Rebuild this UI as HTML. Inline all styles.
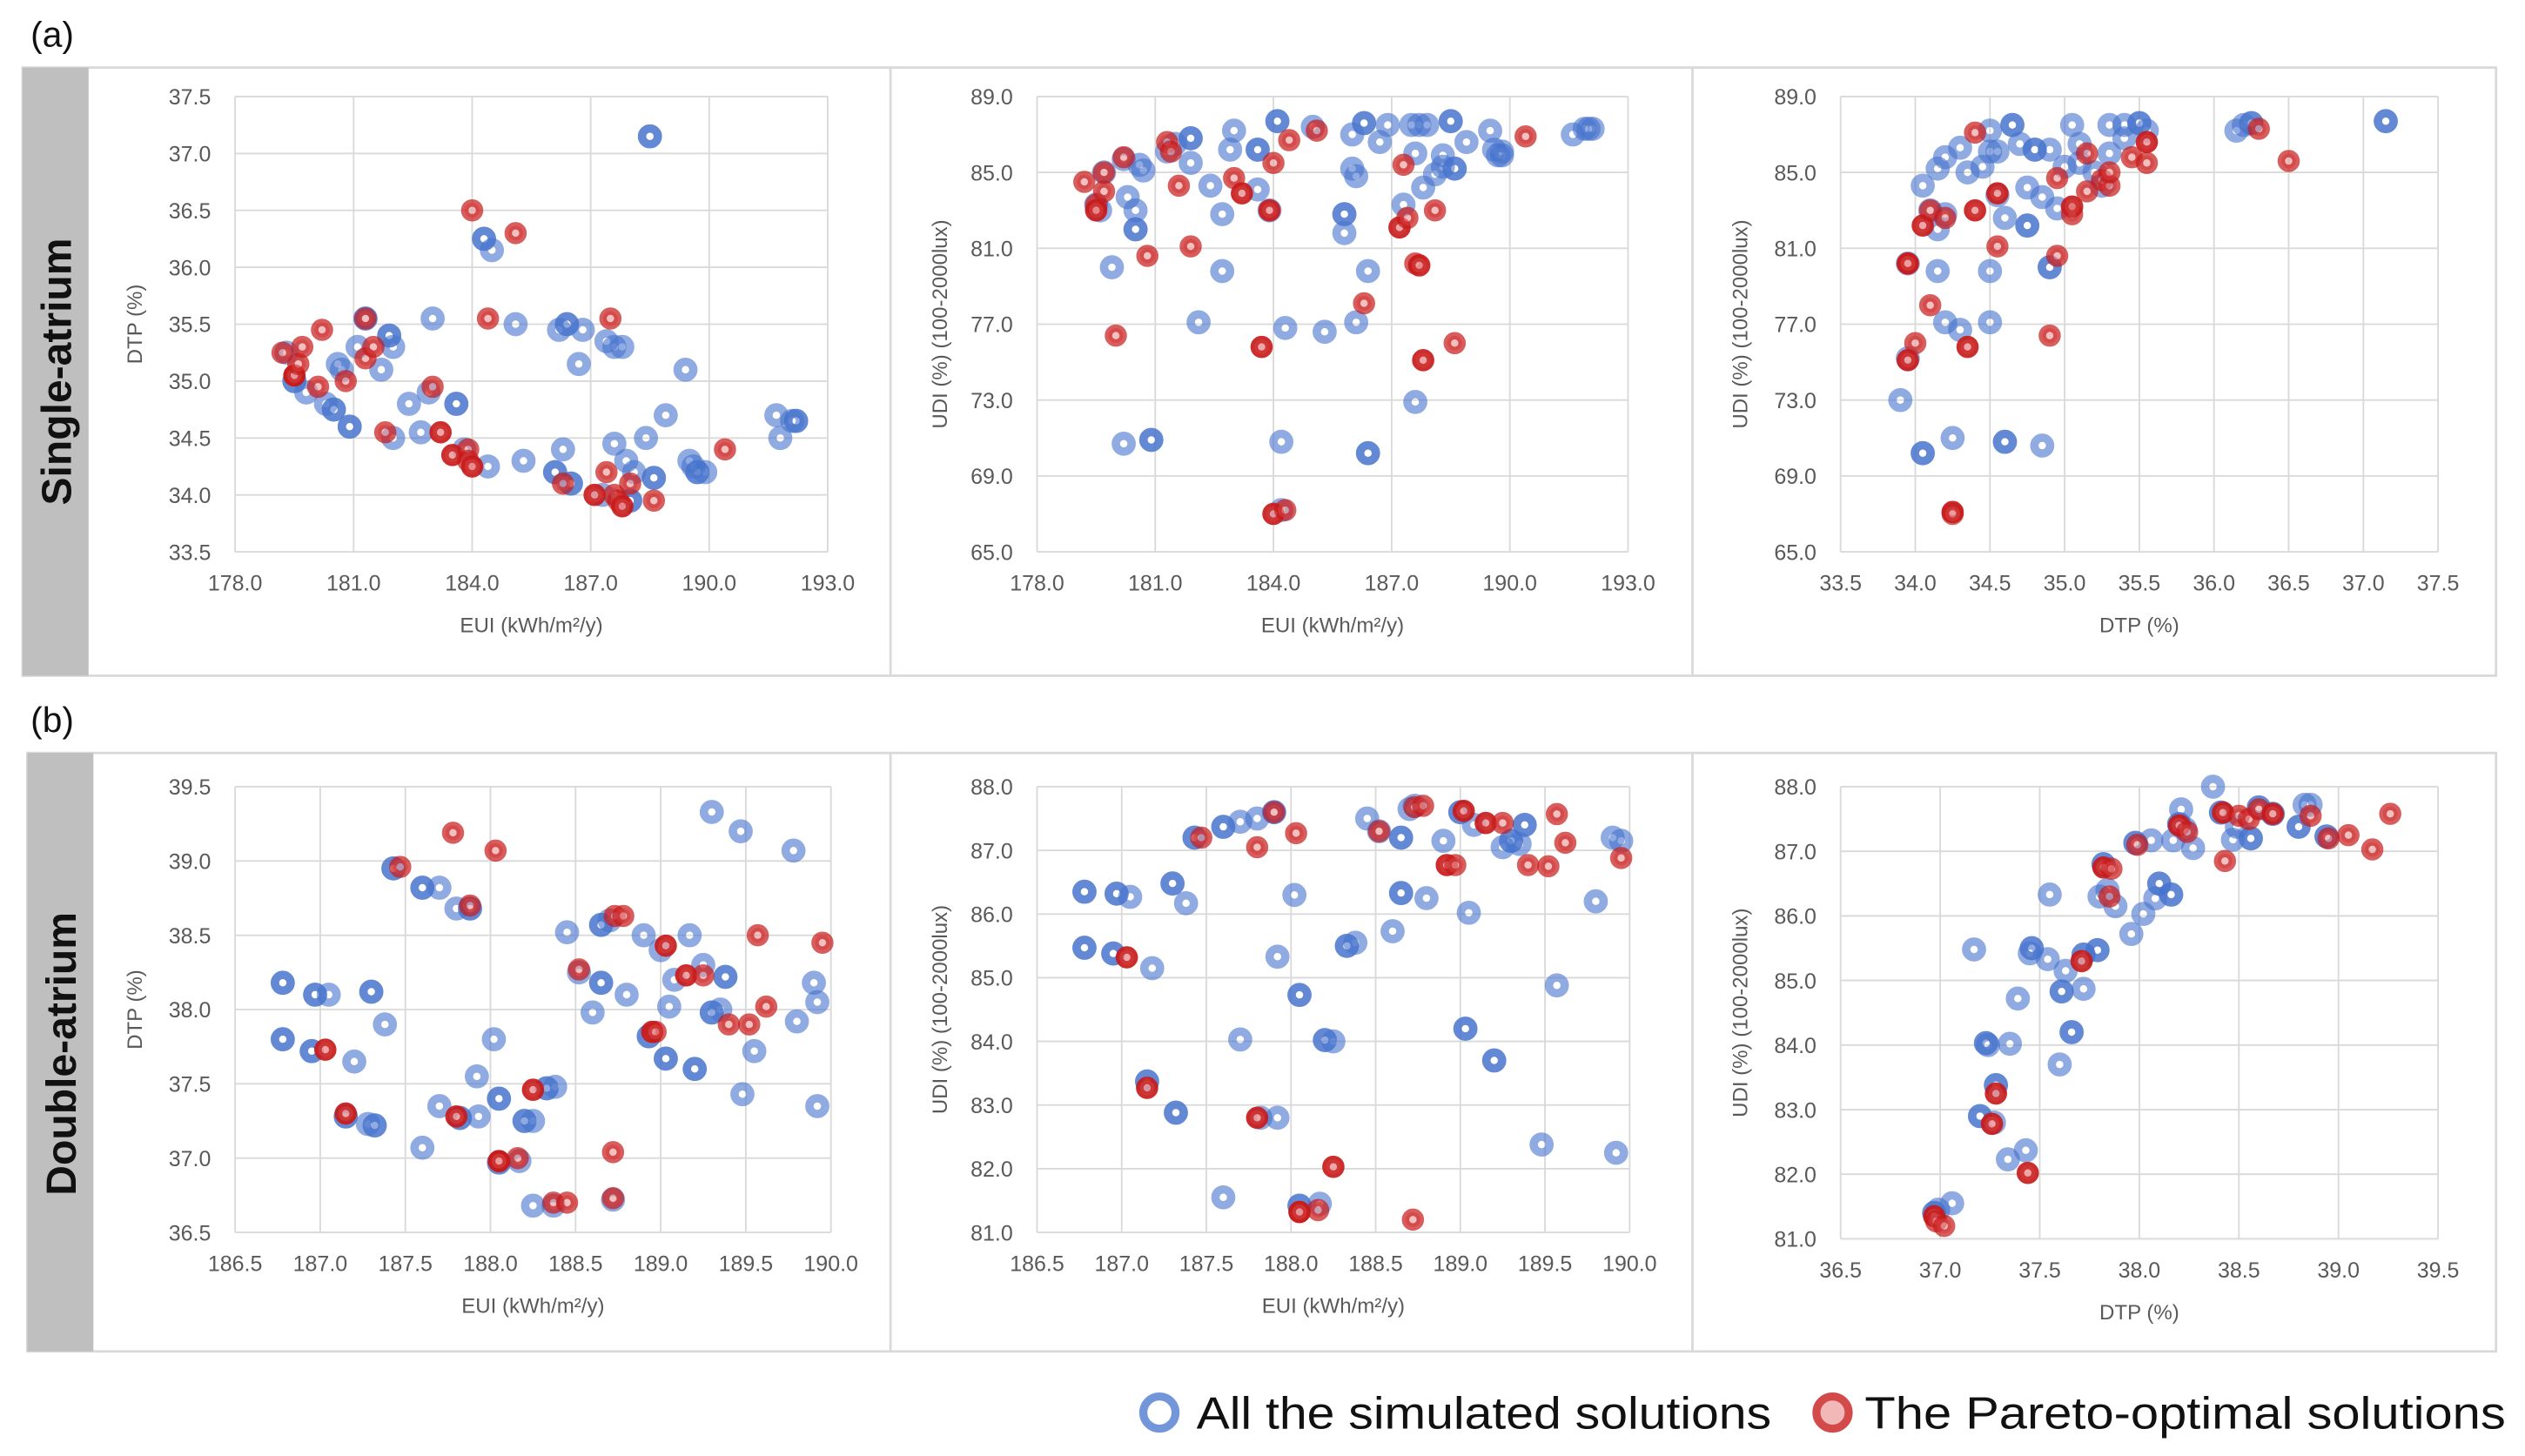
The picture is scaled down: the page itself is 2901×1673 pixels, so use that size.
<!DOCTYPE html>
<html><head><meta charset="utf-8"><style>
html,body{margin:0;padding:0;background:#fff;}
svg{display:block;}
text{font-family:"Liberation Sans",sans-serif;}
</style></head><body>
<svg id="fig" width="2901" height="1673" viewBox="0 0 1568 905" preserveAspectRatio="none" xmlns="http://www.w3.org/2000/svg">
<text x="19" y="29" font-size="22" fill="#111">(a)</text>
<text x="19" y="455" font-size="22" fill="#111">(b)</text>
<rect x="14" y="42" width="1536" height="378" fill="#fff" stroke="#d9d9d9" stroke-width="1.5"/>
<rect x="14" y="42" width="41" height="378" fill="#bfbfbf"/>
<text transform="translate(44,231) rotate(-90)" text-anchor="middle" font-size="26" font-weight="bold" fill="#111">Single-atrium</text>
<line x1="553" y1="42" x2="553" y2="420" stroke="#d9d9d9" stroke-width="1.5"/>
<line x1="1051" y1="42" x2="1051" y2="420" stroke="#d9d9d9" stroke-width="1.5"/>
<rect x="17" y="468" width="1533" height="372" fill="#fff" stroke="#d9d9d9" stroke-width="1.5"/>
<rect x="17" y="468" width="41" height="372" fill="#bfbfbf"/>
<text transform="translate(47,655) rotate(-90)" text-anchor="middle" font-size="26" font-weight="bold" fill="#111">Double-atrium</text>
<line x1="553" y1="468" x2="553" y2="840" stroke="#d9d9d9" stroke-width="1.5"/>
<line x1="1051" y1="468" x2="1051" y2="840" stroke="#d9d9d9" stroke-width="1.5"/>
<g>
<circle cx="720" cy="878" r="10" fill="#fff" stroke="#7396db" stroke-width="5"/>
<text x="743" y="888" font-size="28" textLength="357" lengthAdjust="spacingAndGlyphs" fill="#111">All the simulated solutions</text>
<circle cx="1138" cy="878" r="10" fill="#f2b8b8" stroke="#d24a4a" stroke-width="5"/>
<text x="1158" y="888" font-size="28" textLength="398" lengthAdjust="spacingAndGlyphs" fill="#111">The Pareto-optimal solutions</text>
</g>
</svg>
<script>
// ---- Chart 1: single atrium EUI vs DTP ----
const c1BlueX=[179.3,179.5,179.5,179.8,180.3,180.5,180.5,180.6,180.7,180.9,180.9,181.1,181.3,181.3,181.7,181.9,181.9,182.0,182.0,182.4,182.7,182.9,183.0,183.6,183.6,183.8,184.3,184.3,184.5,184.4,185.1,185.3,186.1,186.1,186.2,186.3,186.4,186.4,186.5,186.5,186.7,186.8,187.3,187.4,187.6,187.6,187.8,187.9,188.0,188.0,188.1,188.5,188.5,188.4,188.6,188.6,188.9,189.4,189.5,189.6,189.7,189.7,189.9,191.7,191.8,192.1,192.2,192.2];
const c1BlueY=[35.25,35.0,35.0,34.9,34.8,34.75,34.75,35.15,35.1,34.6,34.6,35.3,35.55,35.55,35.1,35.4,35.4,35.3,34.5,34.8,34.55,34.9,35.55,34.8,34.8,34.4,36.25,36.25,36.15,34.25,35.5,34.3,34.2,34.2,35.45,34.4,35.5,35.5,34.1,34.1,35.15,35.45,34.0,35.35,34.45,35.3,35.3,34.3,33.95,33.95,34.2,37.15,37.15,34.5,34.15,34.15,34.7,35.1,34.3,34.25,34.2,34.2,34.2,34.7,34.5,34.65,34.65,34.65];
const c1RedX=[179.2,179.5,179.5,179.5,179.6,179.7,180.1,180.2,180.8,181.3,181.3,181.5,181.8,183.0,183.2,183.2,183.5,183.5,183.9,183.9,184.0,184.0,184.0,184.4,185.1,186.3,187.1,187.1,187.4,187.5,187.6,187.7,187.8,187.8,188.0,188.6,190.4];
const c1RedY=[35.25,35.05,35.05,35.05,35.15,35.3,34.95,35.45,35.0,35.55,35.2,35.3,34.55,34.95,34.55,34.55,34.35,34.35,34.4,34.3,34.25,34.25,36.5,35.55,36.3,34.1,34.0,34.0,34.2,35.55,34.0,33.95,33.9,33.9,34.1,33.95,34.4];
// ---- Chart 2: single atrium EUI vs UDI ----
const c2BlueX=[179.5,179.6,179.7,179.9,180.2,180.3,180.5,180.6,180.7,180.5,180.5,180.2,180.9,180.9,181.3,181.5,181.9,181.9,181.9,182.1,182.4,182.7,182.7,183.0,182.9,183.6,183.6,183.6,183.9,184.1,184.1,184.2,184.3,184.2,185.0,185.3,185.8,185.8,185.8,186.0,186.0,186.1,186.1,186.3,186.3,186.4,186.4,186.4,186.7,186.9,187.3,187.5,187.7,187.9,187.6,187.6,187.8,188.1,188.3,188.3,188.5,188.5,188.6,188.6,188.9,189.5,189.6,189.7,189.8,189.8,191.6,191.9,192.0,192.1];
const c2BlueY=[83.3,83.0,85.0,80.0,85.7,83.7,83.0,85.4,85.1,82.0,82.0,70.7,70.9,70.9,86.1,86.5,86.8,86.8,85.5,77.1,84.3,82.8,79.8,87.2,86.2,86.2,86.2,84.1,83.0,87.7,87.7,70.8,76.8,67.2,87.4,76.6,82.8,82.8,81.8,87.0,85.2,84.8,77.1,87.6,87.6,70.2,70.2,79.8,86.6,87.5,83.3,87.5,87.5,87.5,86.0,72.9,84.2,84.9,85.3,85.9,87.7,87.7,85.2,85.2,86.6,87.2,86.2,85.9,86.1,85.9,87.0,87.3,87.3,87.3];
const c2RedX=[179.2,179.5,179.5,179.5,179.7,179.7,180.0,180.2,180.8,181.3,181.4,181.6,181.9,183.0,183.2,183.2,183.7,183.7,183.9,183.9,184.0,184.0,184.0,184.3,184.4,185.1,186.3,187.2,187.2,187.3,187.4,187.6,187.7,187.7,187.8,187.8,188.1,188.6,190.4];
const c2RedY=[84.5,83.3,83.0,83.0,85.0,84.0,76.4,85.8,80.6,86.6,86.1,84.3,81.1,84.7,83.9,83.9,75.8,75.8,83.0,83.0,85.5,67.0,67.0,67.2,86.7,87.2,78.1,82.1,82.1,85.4,82.6,80.2,80.1,80.1,75.1,75.1,83.0,76.0,86.9];
// ---- Chart 3: single atrium DTP vs UDI ----
const c3BlueX=[33.9,33.95,33.95,34.05,34.05,34.05,34.1,34.15,34.15,34.2,34.2,34.15,34.2,34.3,34.25,34.3,34.35,34.45,34.5,34.5,34.55,34.5,34.5,34.55,34.6,34.6,34.6,34.65,34.65,34.7,34.75,34.75,34.75,34.8,34.8,34.85,34.9,34.85,34.9,34.9,34.95,35.05,35.0,35.1,35.1,35.2,35.25,35.3,35.3,35.4,35.4,35.5,35.5,35.55,36.15,36.2,36.25,36.25,37.15,37.15];
const c3BlueY=[73.0,75.2,80.2,70.2,70.2,84.3,83.0,79.8,85.2,85.8,82.8,82.0,77.1,86.3,71.0,76.7,85.0,85.3,87.2,86.1,86.1,77.1,79.8,83.8,82.6,70.8,70.8,87.5,87.5,86.5,82.2,82.2,84.2,86.2,86.2,83.7,86.2,70.6,80.0,80.0,83.1,87.5,85.3,85.5,86.5,85.0,84.3,87.5,86.0,87.5,86.8,87.6,87.6,87.2,87.2,87.5,87.6,87.6,87.7,87.7];
const c3RedX=[33.95,33.95,33.95,33.95,33.95,34.0,34.05,34.05,34.1,34.1,34.2,34.25,34.25,34.25,34.35,34.35,34.4,34.4,34.4,34.55,34.55,34.55,34.9,34.95,34.95,35.05,35.05,35.05,35.15,35.15,35.25,35.3,35.3,35.45,35.55,35.55,35.55,36.3,36.5];
const c3RedY=[75.1,75.1,80.2,80.2,80.2,76.0,82.2,82.2,83.0,78.0,82.6,67.1,67.1,67.0,75.8,75.8,83.0,83.0,87.1,83.9,83.9,81.1,76.4,84.7,80.6,83.2,82.8,83.2,84.0,86.0,84.6,84.3,85.0,85.8,86.6,86.6,85.5,87.3,85.6];
// ---- Chart 4: double atrium EUI vs DTP ----
const c4BlueX=[186.78,186.78,186.78,186.78,186.97,186.97,187.05,186.95,186.95,187.2,187.3,187.3,187.38,187.15,187.15,187.28,187.32,187.32,187.43,187.43,187.6,187.6,187.7,187.8,187.88,187.88,187.6,187.7,187.82,187.82,187.92,187.93,188.02,188.05,188.05,188.05,188.05,188.17,188.2,188.2,188.25,188.25,188.33,188.33,188.38,188.37,188.45,188.52,188.6,188.65,188.65,188.65,188.65,188.7,188.72,188.8,188.9,188.93,188.93,189.0,189.05,189.03,189.03,189.08,189.17,189.2,189.2,189.25,189.3,189.3,189.35,189.38,189.38,189.3,189.47,189.48,189.55,189.78,189.8,189.9,189.92,189.92];
const c4BlueY=[38.18,38.18,37.8,37.8,38.1,38.1,38.1,37.72,37.72,37.65,38.12,38.12,37.9,37.28,37.28,37.23,37.22,37.22,38.95,38.95,38.82,38.82,38.82,38.68,38.68,38.68,37.07,37.35,37.27,37.27,37.55,37.28,37.8,37.4,37.4,36.97,36.97,36.98,37.25,37.25,37.25,36.68,37.47,37.47,37.48,36.68,38.52,38.25,37.98,38.57,38.57,38.18,38.18,38.6,36.72,38.1,38.5,37.82,37.82,38.4,38.02,37.67,37.67,38.2,38.5,37.6,37.6,38.3,37.98,37.98,38.0,38.22,38.22,39.33,39.2,37.43,37.72,39.07,37.92,38.18,38.05,37.35];
const c4RedX=[187.03,187.03,187.15,187.15,187.47,187.78,187.8,187.8,187.88,188.03,188.05,188.05,188.05,188.16,188.25,188.25,188.37,188.45,188.52,188.72,188.72,188.73,188.78,188.95,188.95,188.97,189.03,189.03,189.15,189.15,189.25,189.4,189.52,189.57,189.62,189.95];
const c4RedY=[37.73,37.73,37.3,37.3,38.96,39.19,37.28,37.28,38.7,39.07,36.98,36.98,36.98,37.0,37.46,37.46,36.7,36.7,38.27,37.04,36.73,38.63,38.63,37.85,37.85,37.85,38.43,38.43,38.23,38.23,38.23,37.9,37.9,38.5,38.02,38.45];
// ---- Chart 5: double atrium EUI vs UDI ----
const c5BlueX=[186.78,186.78,186.78,186.78,186.97,186.97,187.05,186.95,186.95,187.18,187.3,187.3,187.38,187.15,187.15,187.32,187.32,187.43,187.43,187.6,187.6,187.7,187.8,187.9,187.9,187.6,187.7,187.82,187.92,187.92,188.02,188.05,188.05,188.05,188.05,188.17,188.2,188.2,188.25,188.33,188.33,188.38,188.45,188.52,188.6,188.65,188.65,188.65,188.65,188.7,188.73,188.8,188.9,189.0,189.0,189.05,189.03,189.03,189.08,189.2,189.2,189.25,189.3,189.3,189.35,189.38,189.38,189.48,189.57,189.8,189.9,189.95,189.92];
const c5BlueY=[86.35,86.35,85.47,85.47,86.32,86.32,86.27,85.38,85.38,85.15,86.48,86.48,86.17,83.37,83.37,82.88,82.88,87.2,87.2,87.37,87.37,87.45,87.5,87.6,87.6,81.55,84.03,82.8,82.8,85.33,86.3,84.73,84.73,81.42,81.42,81.45,84.02,84.02,84.0,85.5,85.5,85.55,87.5,87.3,85.73,87.2,87.2,86.33,86.33,87.65,87.7,86.25,87.15,87.6,87.6,86.02,84.2,84.2,87.4,83.7,83.7,87.05,87.15,87.15,87.1,87.4,87.4,82.38,84.88,86.2,87.2,87.15,82.25];
const c5RedX=[187.03,187.03,187.15,187.15,187.47,187.8,187.8,187.8,187.9,188.03,188.05,188.05,188.05,188.16,188.25,188.25,188.52,188.72,188.73,188.78,188.92,188.92,188.97,189.02,189.02,189.15,189.15,189.25,189.4,189.52,189.57,189.62,189.95];
const c5RedY=[85.32,85.32,83.27,83.27,87.2,87.05,82.8,82.8,87.6,87.27,81.32,81.32,81.32,81.35,82.03,82.03,87.3,81.2,87.68,87.7,86.77,86.77,86.77,87.62,87.62,87.43,87.43,87.43,86.77,86.75,87.57,87.12,86.88];
// ---- Chart 6: double atrium DTP vs UDI ----
const c6BlueX=[36.97,36.97,36.99,37.06,37.17,37.23,37.23,37.24,37.35,37.2,37.2,37.27,37.28,37.28,37.34,37.43,37.39,37.46,37.46,37.45,37.54,37.55,37.6,37.61,37.61,37.63,37.66,37.66,37.72,37.72,37.72,37.79,37.79,37.8,37.82,37.82,37.84,37.88,37.96,37.98,37.98,38.02,38.06,38.1,38.1,38.08,38.16,38.16,38.17,38.2,38.2,38.21,38.23,38.27,38.37,38.41,38.41,38.47,38.49,38.56,38.56,38.6,38.6,38.67,38.67,38.8,38.8,38.83,38.86,38.94,38.94];
const c6BlueY=[81.4,81.4,81.45,81.55,85.48,84.03,84.03,84.0,84.02,82.9,82.9,82.8,83.38,83.38,82.23,82.37,84.72,85.5,85.5,85.42,85.33,86.33,83.7,84.83,84.83,85.15,84.2,84.2,84.87,85.4,85.4,85.47,85.47,86.3,86.8,86.8,86.4,86.15,85.72,87.13,87.13,86.03,87.17,86.5,86.5,86.27,86.33,86.33,87.17,87.42,87.42,87.65,87.35,87.05,88.0,87.6,87.6,87.18,87.38,87.2,87.2,87.68,87.68,87.58,87.58,87.38,87.38,87.72,87.72,87.23,87.23];
const c6RedX=[36.97,36.97,36.98,37.02,37.26,37.26,37.28,37.28,37.44,37.44,37.71,37.71,37.82,37.82,37.86,37.85,37.99,38.2,38.2,38.24,38.43,38.42,38.42,38.5,38.55,38.6,38.67,38.67,38.86,38.95,39.05,39.17,39.26];
const c6RedY=[81.35,81.35,81.27,81.2,82.78,82.78,83.25,83.25,82.02,82.02,85.3,85.3,86.75,86.75,86.73,86.3,87.1,87.4,87.4,87.3,86.85,87.6,87.6,87.55,87.5,87.65,87.58,87.58,87.55,87.2,87.25,87.03,87.58];
// tick labels
const xTicksEUI1=["178.0","181.0","184.0","187.0","190.0","193.0"];
const yTicksDTP1=["33.5","34.0","34.5","35.0","35.5","36.0","36.5","37.0","37.5"];
const yTicksUDI1=["65.0","69.0","73.0","77.0","81.0","85.0","89.0"];
const xTicksDTP1=["33.5","34.0","34.5","35.0","35.5","36.0","36.5","37.0","37.5"];
const xTicksEUI2=["186.5","187.0","187.5","188.0","188.5","189.0","189.5","190.0"];
const yTicksDTP2=["36.5","37.0","37.5","38.0","38.5","39.0","39.5"];
const yTicksUDI2=["81.0","82.0","83.0","84.0","85.0","86.0","87.0","88.0"];
const xTicksDTP2=["36.5","37.0","37.5","38.0","38.5","39.0","39.5"];

const NS="http://www.w3.org/2000/svg";
const svg=document.getElementById('fig');
function mk(tag,attrs,parent){const e=document.createElementNS(NS,tag);for(const k in attrs)e.setAttribute(k,attrs[k]);parent.appendChild(e);return e;}

const charts=[
 {id:'c1',L:146,R:514,T:60,B:343,xt:xTicksEUI1,yt:yTicksDTP1,xtitle:'EUI (kWh/m²/y)',ytitle:'DTP (%)',ytx:88,bx:c1BlueX,by:c1BlueY,rx:c1RedX,ry:c1RedY},
 {id:'c2',L:644,R:1011,T:60,B:343,xt:xTicksEUI1,yt:yTicksUDI1,xtitle:'EUI (kWh/m²/y)',ytitle:'UDI (%) (100-2000lux)',ytx:588,bx:c2BlueX,by:c2BlueY,rx:c2RedX,ry:c2RedY},
 {id:'c3',L:1143,R:1514,T:60,B:343,xt:xTicksDTP1,yt:yTicksUDI1,xtitle:'DTP (%)',ytitle:'UDI (%) (100-2000lux)',ytx:1085,bx:c3BlueX,by:c3BlueY,rx:c3RedX,ry:c3RedY},
 {id:'c4',L:146,R:516,T:489,B:766,xt:xTicksEUI2,yt:yTicksDTP2,xtitle:'EUI (kWh/m²/y)',ytitle:'DTP (%)',ytx:88,bx:c4BlueX,by:c4BlueY,rx:c4RedX,ry:c4RedY},
 {id:'c5',L:644,R:1012,T:489,B:766,xt:xTicksEUI2,yt:yTicksUDI2,xtitle:'EUI (kWh/m²/y)',ytitle:'UDI (%) (100-2000lux)',ytx:588,bx:c5BlueX,by:c5BlueY,rx:c5RedX,ry:c5RedY},
 {id:'c6',L:1143,R:1514,T:489,B:770,xt:xTicksDTP2,yt:yTicksUDI2,xtitle:'DTP (%)',ytitle:'UDI (%) (100-2000lux)',ytx:1085,bx:c6BlueX,by:c6BlueY,rx:c6RedX,ry:c6RedY}
];

charts.forEach(c=>{
 const g=mk('g',{},svg);
 
 
 const x0=parseFloat(c.xt[0]),x1=parseFloat(c.xt[c.xt.length-1]);
 const y0=parseFloat(c.yt[0]),y1=parseFloat(c.yt[c.yt.length-1]);
 const sx=v=>c.L+(v-x0)/(x1-x0)*(c.R-c.L);
 const sy=v=>c.B-(v-y0)/(y1-y0)*(c.B-c.T);
 c.xt.forEach(t=>{
  const x=sx(parseFloat(t));
  const ln=mk('line',{x1:x,x2:x,y1:c.T,y2:c.B,stroke:'#d9d9d9','stroke-width':1},g);
  
  
  const tx=mk('text',{x:x,y:c.B+24,'text-anchor':'middle','font-size':13.5,fill:'#595959'},g);
  tx.textContent=t;
  
  
 });
 c.yt.forEach(t=>{
  const y=sy(parseFloat(t));
  const ln=mk('line',{x1:c.L,x2:c.R,y1:y,y2:y,stroke:'#d9d9d9','stroke-width':1},g);
  
  
  const tx=mk('text',{x:c.L-15,y:y+5,'text-anchor':'end','font-size':13.5,fill:'#595959'},g);
  tx.textContent=t;
  
  
 });
 const xtl=mk('text',{x:(c.L+c.R)/2,y:c.B+50,'text-anchor':'middle','font-size':13,fill:'#595959'},g);
 xtl.textContent=c.xtitle;
 
 
 const ytl=mk('text',{transform:`translate(${c.ytx},${(c.T+c.B)/2}) rotate(-90)`,'text-anchor':'middle','font-size':13,fill:'#595959'},g);
 ytl.textContent=c.ytitle;
 
 
 c.bx.forEach((v,i)=>{
  const p=mk('circle',{cx:sx(v),cy:sy(c.by[i]),r:4.9,fill:'none',stroke:'rgba(70,115,205,0.6)','stroke-width':5.2},g);
  
  
 });
 c.rx.forEach((v,i)=>{
  const p=mk('circle',{cx:sx(v),cy:sy(c.ry[i]),r:4.6,fill:'rgba(235,150,150,0.6)',stroke:'rgba(200,25,25,0.7)','stroke-width':4.6},g);
  
  
 });
});
</script>
</body></html>
